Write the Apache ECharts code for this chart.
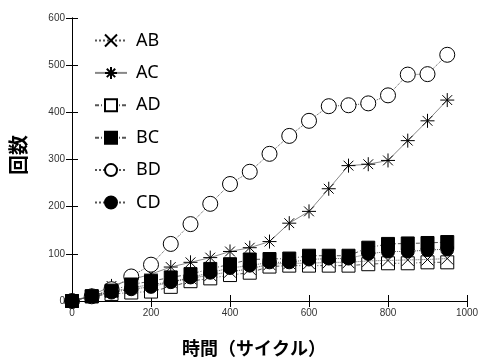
<!DOCTYPE html>
<html><head><meta charset="utf-8">
<script src="https://cdn.jsdelivr.net/npm/echarts@6/dist/echarts.min.js"></script>
<style>html,body{margin:0;padding:0;background:#fff}#c{width:482px;height:360px}</style>
</head><body><div id="c"></div>
<script>
var xs = [0,50,100,150,200,250,300,350,400,450,500,550,600,650,700,750,800,850,900,950];
var AB = [0,10,20,28,35,40,48,55,62,68,78,80,80,82,82,85,86,87,88,90];
var AC = [0,12,32,45,57,72,82,92,105,113,126,165,190,238,287,290,298,340,382,426];
var AD = [0,10,15,18,20,30,42,48,55,60,73,75,75,75,75,78,80,80,82,82];
var BC = [0,10,22,35,42,50,57,68,78,88,89,90,96,96,96,113,121,122,123,125];
var BD = [0,10,25,52,77,121,163,206,248,274,312,350,382,413,415,419,436,480,481,522];
var CD = [0,10,18,25,30,40,50,60,70,75,82,82,88,90,90,100,105,105,108,110];
var names = ['AB','AC','AD','BC','BD','CD'];

function pairs(v){ return xs.map(function(x,i){return [x,v[i]];}); }
var crossPath = 'path://M0,0L10,10M10,0L0,10';
var starPath = 'path://M5,0L5,10M0,5L10,5M1.5,1.5L8.5,8.5M8.5,1.5L1.5,8.5';

function ser(name, data, symbol, size, fill, lineType, lineColor, z){
  return {
    name: name, type: 'line', data: pairs(data), symbol: symbol, symbolSize: size,
    symbolKeepAspect: true, z: z,
    lineStyle: {color: lineColor, width: 1, type: lineType},
    itemStyle: {color: fill, borderColor: '#000', borderWidth: 1},
    emphasis: {disabled: true}, animation: false
  };
}

var chart = echarts.init(document.getElementById('c'));
chart.setOption({
  animation: false,
  grid: {left: 72, right: 15, top: 18, bottom: 59},
  legend: {
    orient: 'vertical', left: 89, top: 26.5, itemWidth: 32, itemHeight: 15, itemGap: 14.4,
    textStyle: {fontFamily: 'Noto Sans', fontSize: 18, lineHeight: 15, color: '#000', padding: [0,0,0,4]},
    data: names
  },
  xAxis: [{
    type: 'value', min: 0, max: 1000, interval: 200,
    axisLine: {show: true, lineStyle: {color: '#000', width: 1}},
    axisTick: {show: true, inside: true, length: 6, lineStyle: {color: '#000'}},
    axisLabel: {fontFamily: 'Liberation Sans', fontSize: 10, color: '#333', margin: 7,
      formatter: function(v){ return String(v); }},
    splitLine: {show: false}
  },{
    type: 'value', min: 0, max: 1000, interval: 200, position: 'top',
    axisLine: {show: true, lineStyle: {color: '#000', width: 1}},
    axisTick: {show: true, inside: true, length: 6, lineStyle: {color: '#000'}},
    axisLabel: {show: false}, splitLine: {show: false}
  }],
  yAxis: [{
    type: 'value', min: 0, max: 600, interval: 100,
    axisLine: {show: true, lineStyle: {color: '#000', width: 1}},
    axisTick: {show: true, inside: true, length: 6, lineStyle: {color: '#000'}},
    axisLabel: {fontFamily: 'Liberation Sans', fontSize: 10, color: '#333', margin: 7},
    splitLine: {show: false}
  },{
    type: 'value', min: 0, max: 600, interval: 100, position: 'right',
    axisLine: {show: true, lineStyle: {color: '#000', width: 1}},
    axisTick: {show: true, inside: true, length: 6, lineStyle: {color: '#000'}},
    axisLabel: {show: false}, splitLine: {show: false}
  }],
  graphic: [
    {type: 'text', left: 182, top: 339, style: {text: '時間（サイクル）', font: 'bold 18px "Noto Sans CJK JP"', fill: '#000'}},
    {type: 'text', x: 8, y: 175, rotation: Math.PI/2, style: {text: '回数', font: 'bold 20px "Noto Sans CJK JP"', fill: '#000'}}
  ],
  series: [
    ser('AB', AB, crossPath, 12, 'none', 'dotted', '#555', 3),
    ser('AC', AC, starPath, 14, 'none', 'solid', '#888', 3),
    ser('AD', AD, 'rect', 13, '#fff', [4,2,1,2], '#555', 2),
    ser('BC', BC, 'rect', 13, '#000', [4,2,1,2], '#555', 6),
    ser('BD', BD, 'circle', 15, '#fff', 'dotted', '#555', 4),
    ser('CD', CD, 'circle', 13, '#000', 'dotted', '#555', 5)
  ]
});
</script></body></html>
